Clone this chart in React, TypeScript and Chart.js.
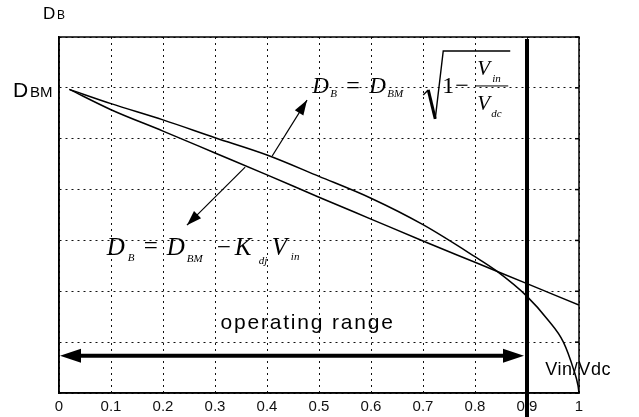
import React, { useEffect, useRef } from "react";
import { Chart, registerables } from "chart.js";

Chart.register(...registerables);

// ---- data ----
const X_TICKS = [0, 0.1, 0.2, 0.3, 0.4, 0.5, 0.6, 0.7, 0.8, 0.9, 1];
const X_TICK_LABELS = ["0", "0.1", "0.2", "0.3", "0.4", "0.5", "0.6", "0.7", "0.8", "0.9", "1"];
const Y_GRID = [0, 1, 2, 3, 4, 5, 6, 7];

// D_B = D_BM * sqrt(1 - Vin/Vdc)  (upper curve)
const X_SQRT = [0.02, 0.1, 0.2, 0.3, 0.4, 0.5, 0.6, 0.7, 0.8, 0.84, 0.9, 0.94, 0.97, 0.99, 0.998, 1.0];
const Y_SQRT = [5.97, 5.69, 5.37, 5.02, 4.68, 4.26, 3.83, 3.31, 2.68, 2.41, 1.9, 1.44, 1.0, 0.45, 0.15, 0.0];

// D_B = D_BM - K_dj * Vin  (straight line)
const X_LIN = [0.02, 0.1, 0.2, 0.3, 0.4, 0.5, 0.6, 0.7, 0.8, 0.9, 1.0];
const Y_LIN = [5.97, 5.57, 5.15, 4.72, 4.29, 3.85, 3.42, 2.99, 2.57, 2.15, 1.73];

const D_BM = 6;
const Y_MAX = 7;
const LIMIT = 0.9; // end of operating range
const RANGE_Y = 0.73;

const SANS = '"Liberation Sans", Arial, Helvetica, sans-serif';
const SERIF = '"Liberation Serif", "Times New Roman", serif';

function txt(ctx: CanvasRenderingContext2D, s: string, x: number, y: number, font: string, align: CanvasTextAlign = "left", spacing = 0) {
  ctx.save();
  ctx.font = font;
  ctx.fillStyle = "#000";
  ctx.textAlign = align;
  ctx.textBaseline = "alphabetic";
  (ctx as any).letterSpacing = spacing + "px";
  ctx.fillText(s, x, y);
  ctx.restore();
}

function arrowHead(ctx: CanvasRenderingContext2D, tx: number, ty: number, fx: number, fy: number, len: number, half: number) {
  const a = Math.atan2(ty - fy, tx - fx);
  const bx = tx - len * Math.cos(a);
  const by = ty - len * Math.sin(a);
  const nx = -Math.sin(a), ny = Math.cos(a);
  ctx.beginPath();
  ctx.moveTo(tx, ty);
  ctx.lineTo(bx + nx * half, by + ny * half);
  ctx.lineTo(bx - nx * half, by - ny * half);
  ctx.closePath();
  ctx.fill();
}

const overlay = {
  id: "overlay",
  afterDraw(chart: any) {
    const ctx: CanvasRenderingContext2D = chart.ctx;
    const xs = chart.scales.x, ys = chart.scales.y;
    const ca = chart.chartArea;
    const X = (v: number) => xs.getPixelForValue(v);
    const Y = (v: number) => ys.getPixelForValue(v);
    ctx.save();
    ctx.strokeStyle = "#000";
    ctx.fillStyle = "#000";

    // frame
    ctx.lineWidth = 1.5;
    ctx.strokeRect(ca.left, ca.top, ca.right - ca.left, ca.bottom - ca.top);

    // small inner ticks on right border
    ctx.lineWidth = 1.5;
    for (const v of Y_GRID) {
      ctx.beginPath();
      ctx.moveTo(ca.right, Y(v));
      ctx.lineTo(ca.right - 4, Y(v));
      ctx.stroke();
    }

    // thick limit line
    ctx.lineWidth = 4;
    ctx.beginPath();
    ctx.moveTo(X(LIMIT), ca.top + 2);
    ctx.lineTo(X(LIMIT), chart.height);
    ctx.stroke();

    // operating range double arrow
    const ay = Y(RANGE_Y);
    const ax0 = X(0) + 1, ax1 = X(LIMIT) - 3;
    ctx.lineWidth = 4;
    ctx.beginPath();
    ctx.moveTo(ax0 + 15, ay);
    ctx.lineTo(ax1 - 15, ay);
    ctx.stroke();
    arrowHead(ctx, ax0, ay, ax1, ay, 21, 7);
    arrowHead(ctx, ax1, ay, ax0, ay, 21, 7);

    // formula arrows
    ctx.lineWidth = 1.2;
    const up = { fx: X(0.41), fy: Y(4.66), tx: X(0.477), ty: Y(5.76) };
    const dn = { fx: X(0.358), fy: Y(4.44), tx: X(0.246), ty: Y(3.30) };
    for (const a of [up, dn]) {
      ctx.beginPath();
      ctx.moveTo(a.fx, a.fy);
      ctx.lineTo(a.tx, a.ty);
      ctx.stroke();
      arrowHead(ctx, a.tx, a.ty, a.fx, a.fy, 15, 5);
    }

    // axis labels
    txt(ctx, "D", 43, 19, `17px ${SANS}`);
    txt(ctx, "B", 57, 19, `12px ${SANS}`);
    const by = Y(D_BM) + 9;
    txt(ctx, "D", 13, by, `21px ${SANS}`);
    txt(ctx, "BM", 30, by, `15px ${SANS}`);

    txt(ctx, "operating range", X(0.478), Y(1.26), `21px ${SANS}`, "center", 1.8);
    txt(ctx, "Vin/Vdc", X(0.935), Y(0.354), `18px ${SANS}`, "left", 0.6);

    // upper formula: D_B = D_BM sqrt(1 - Vin/Vdc)
    const ux = X(0.487), uy = Y(5.9);
    const I22 = `italic 23px ${SERIF}`, I10 = `italic 11px ${SERIF}`;
    txt(ctx, "D", ux, uy, I22);
    txt(ctx, "B", ux + 18, uy + 4, I10);
    txt(ctx, "=", ux + 34, uy, `24px ${SERIF}`);
    txt(ctx, "D", ux + 57, uy, I22);
    txt(ctx, "BM", ux + 75, uy + 4, I10);
    ctx.lineWidth = 1.3;
    ctx.beginPath();
    ctx.moveTo(ux + 111, uy + 2);
    ctx.lineTo(ux + 116, uy - 3);
    ctx.stroke();
    ctx.lineWidth = 3;
    ctx.beginPath();
    ctx.moveTo(ux + 116, uy - 3);
    ctx.lineTo(ux + 123, uy + 26);
    ctx.stroke();
    ctx.lineWidth = 1.4;
    ctx.beginPath();
    ctx.moveTo(ux + 123, uy + 26);
    ctx.lineTo(ux + 131, uy - 42);
    ctx.lineTo(ux + 198, uy - 42);
    ctx.stroke();
    txt(ctx, "1", ux + 130, uy, `24px ${SERIF}`);
    txt(ctx, "\u2212", ux + 143, uy, `24px ${SERIF}`);
    ctx.lineWidth = 1;
    ctx.beginPath();
    ctx.moveTo(ux + 163, uy - 7);
    ctx.lineTo(ux + 196, uy - 7);
    ctx.stroke();
    txt(ctx, "V", ux + 165, uy - 18, `italic 21px ${SERIF}`);
    txt(ctx, "in", ux + 180, uy - 11, I10);
    txt(ctx, "V", ux + 165, uy + 17, `italic 21px ${SERIF}`);
    txt(ctx, "dc", ux + 179, uy + 24, I10);

    // lower formula: D_B = D_BM - K_dj V_in
    const lx = X(0.092), ly = Y(2.71);
    const I24 = `italic 25px ${SERIF}`;
    txt(ctx, "D", lx, ly, I24);
    txt(ctx, "B", lx + 21, ly + 6, I10);
    txt(ctx, "=", lx + 37, ly - 1, `25px ${SERIF}`);
    txt(ctx, "D", lx + 60, ly, I24);
    txt(ctx, "BM", lx + 80, ly + 7, `italic 11px ${SERIF}`);
    txt(ctx, "\u2212", lx + 110, ly, `25px ${SERIF}`);
    txt(ctx, "K", lx + 128, ly, I24);
    txt(ctx, "dj", lx + 152, ly + 9, I10);
    txt(ctx, "V", lx + 165, ly, I24);
    txt(ctx, "in", lx + 184, ly + 5, I10);

    ctx.restore();
  },
};

export default function App() {
  const ref = useRef<HTMLCanvasElement | null>(null);
  useEffect(() => {
    if (!ref.current) return;
    const chart = new Chart(ref.current, {
      type: "scatter",
      data: {
        datasets: [
          {
            label: "sqrt",
            data: X_SQRT.map((x, i) => ({ x, y: Y_SQRT[i] })),
            showLine: true,
            borderColor: "#000",
            borderWidth: 1.5,
            pointRadius: 0,
            cubicInterpolationMode: "monotone",
          },
          {
            label: "linear",
            data: X_LIN.map((x, i) => ({ x, y: Y_LIN[i] })),
            showLine: true,
            borderColor: "#000",
            borderWidth: 1.5,
            pointRadius: 0,
            cubicInterpolationMode: "monotone",
          },
        ],
      },
      options: {
        responsive: false,
        animation: false,
        layout: { padding: { top: 37, right: 60, left: 0, bottom: 0 } },
        plugins: { legend: { display: false }, tooltip: { enabled: false } },
        scales: {
          x: {
            type: "linear",
            min: 0,
            max: 1,
            afterBuildTicks: (s: any) => { s.ticks = X_TICKS.map((v) => ({ value: v })); },
            afterFit: (s: any) => { s.height = 24; },
            ticks: {
              autoSkip: false,
              maxRotation: 0,
              padding: 5,
              color: "#111",
              font: { family: SANS, size: 15 },
              callback: (_v: any, i: number) => X_TICK_LABELS[i],
            },
            grid: { color: "#111", lineWidth: 1, drawTicks: false },
            border: { display: true, color: "#000", width: 1.5, dash: [2, 4] },
          },
          y: {
            type: "linear",
            min: 0,
            max: Y_MAX,
            afterBuildTicks: (s: any) => { s.ticks = Y_GRID.map((v) => ({ value: v })); },
            afterFit: (s: any) => { s.width = 59; },
            ticks: { display: false },
            grid: { color: "#111", lineWidth: 1, drawTicks: false },
            border: { display: true, color: "#000", width: 1.5, dash: [2, 4] },
          },
        },
      },
      plugins: [overlay],
    } as any);
    return () => chart.destroy();
  }, []);
  return (
    <div style={{ position: "absolute", left: 0, top: 0, width: 639, height: 417, background: "#fff" }}>
      <canvas ref={ref} width={639} height={417} />
    </div>
  );
}
